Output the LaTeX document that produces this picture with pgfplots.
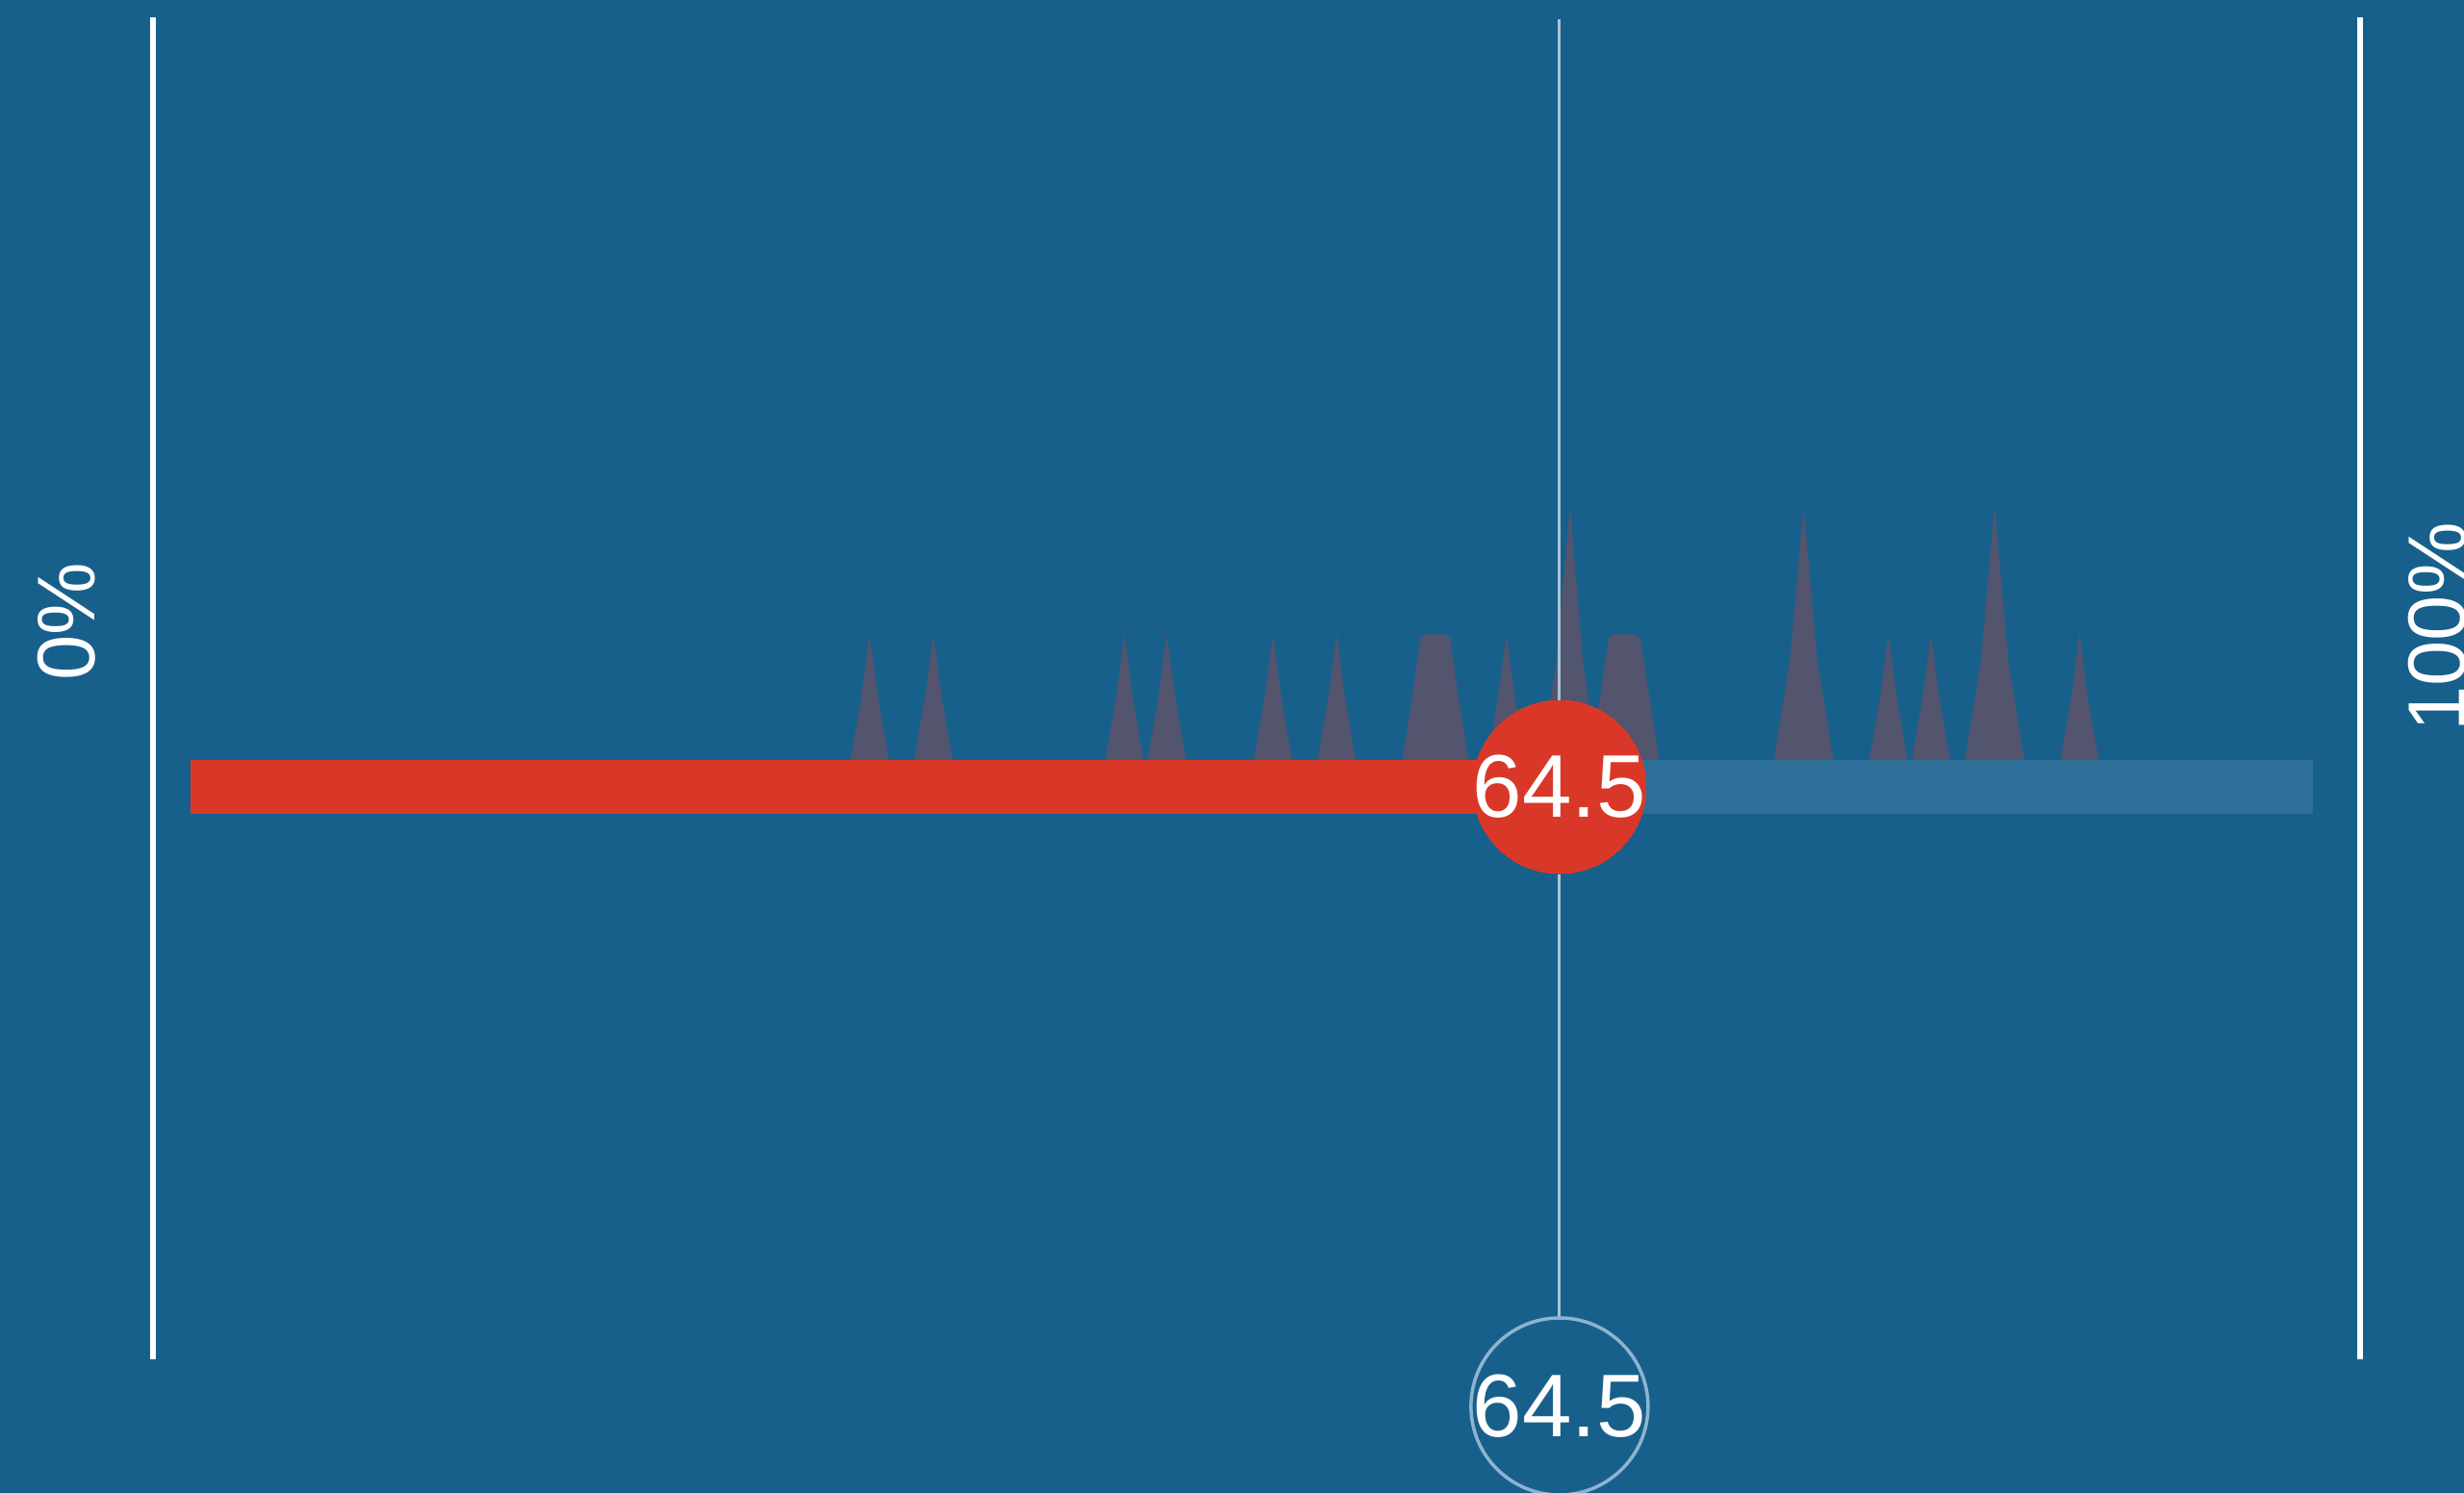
\documentclass[border=0pt]{standalone}
\usepackage{pgfplots}
\pgfplotsset{compat=1.18}
\usepackage{fontspec}
\setmainfont{Liberation Sans}
\definecolor{bg}{RGB}{24,96,140}
\definecolor{barlight}{RGB}{45,111,153}
\definecolor{spike}{RGB}{83,84,110}
\definecolor{redc}{RGB}{217,56,41}
\definecolor{vline}{RGB}{170,196,214}
\definecolor{ring}{RGB}{140,180,210}
\begin{document}
\begin{tikzpicture}
\begin{axis}[
  width=512.2pt, height=310.4pt, scale only axis,
  hide axis,
  xmin=-8.9755, xmax=107.116,
  ymin=-5.953, ymax=6.172,
  clip=false,
]
% background
\fill[bg] (rel axis cs:0,0) rectangle (rel axis cs:1,1);
% white boundary lines
\addplot[white, line width=1.2pt] coordinates {(-1.77,6.031) (-1.77,-4.867)};
\addplot[white, line width=1.2pt] coordinates {(102.2,6.031) (102.2,-4.867)};
% distribution spikes
\addplot[fill=spike, draw=none] coordinates {
 (31.1,0)(31.6,0.5)(32,1.02)(32.4,0.5)(32.9,0)
 (34.1,0)(34.6,0.5)(35,1.02)(35.4,0.5)(35.9,0)
 (43.1,0)(43.6,0.5)(44,1.02)(44.4,0.5)(44.9,0)
 (45.1,0)(45.6,0.5)(46,1.02)(46.4,0.5)(46.9,0)
 (50.1,0)(50.6,0.5)(51,1.02)(51.4,0.5)(51.9,0)
 (53.1,0)(53.6,0.5)(54,1.02)(54.4,0.5)(54.9,0)
 (57.1,0)(57.6,0.55)(57.95,0.99)(58.2,1.02)(59.1,1.02)(59.35,0.99)(59.7,0.55)(60.2,0)
 (61.1,0)(61.6,0.5)(62,1.02)(62.4,0.5)(62.9,0)
 (63.7,0)(64.35,0.8)(65,2.06)(65.6,0.8)(66.1,0.2)(66.45,0.55)(66.8,0.99)(67.05,1.02)(68.05,1.02)(68.3,0.99)(68.7,0.55)(69.2,0)
 (74.6,0)(75.35,0.8)(76,2.06)(76.65,0.8)(77.4,0)
 (79.1,0)(79.6,0.5)(80,1.02)(80.4,0.5)(80.9,0)
 (81.1,0)(81.6,0.5)(82,1.02)(82.4,0.5)(82.9,0)
 (83.6,0)(84.35,0.8)(85,2.06)(85.65,0.8)(86.4,0)
 (88.1,0)(88.6,0.5)(89,1.02)(89.4,0.5)(89.9,0)
};
% bar
\addplot[fill=barlight, draw=none] coordinates {(64.5,0) (100,0) (100,-0.4375) (64.5,-0.4375)};
\addplot[fill=redc, draw=none] coordinates {(0,0) (64.5,0) (64.5,-0.4375) (0,-0.4375)};
% vertical value line
\addplot[vline, line width=0.6pt] coordinates {(64.5,6.016) (64.5,-4.531)};
% red marker with value
\addplot[redc, only marks, mark=*, mark size=18pt, mark options={fill=redc, draw=redc, line width=0pt},
  nodes near coords={64.5}, nodes near coords align={center},
  every node near coord/.append style={white, inner sep=0pt, anchor=center, font=\fontsize{18.5}{22}\selectfont}]
  coordinates {(64.5,-0.219)};
% bottom ring with value
\addplot[ring, only marks, mark=o, mark size=18.4pt, mark options={draw=ring, line width=0.7pt},
  nodes near coords={64.5}, nodes near coords align={center},
  every node near coord/.append style={white, inner sep=0pt, anchor=center, font=\fontsize{18.5}{22}\selectfont}]
  coordinates {(64.5,-5.25)};
% end labels
\node[white, rotate=90, inner sep=0pt, anchor=center, font=\fontsize{17}{20}\selectfont] at (axis cs:-5.825,1.125) {0\%};
\node[white, rotate=90, inner sep=0pt, anchor=center, font=\fontsize{17}{20}\selectfont] at (axis cs:105.85,1.078) {100\%};
\end{axis}
\pgfresetboundingbox
\path[use as bounding box] (current axis.south west) rectangle (current axis.north east);
\end{tikzpicture}
\end{document}
